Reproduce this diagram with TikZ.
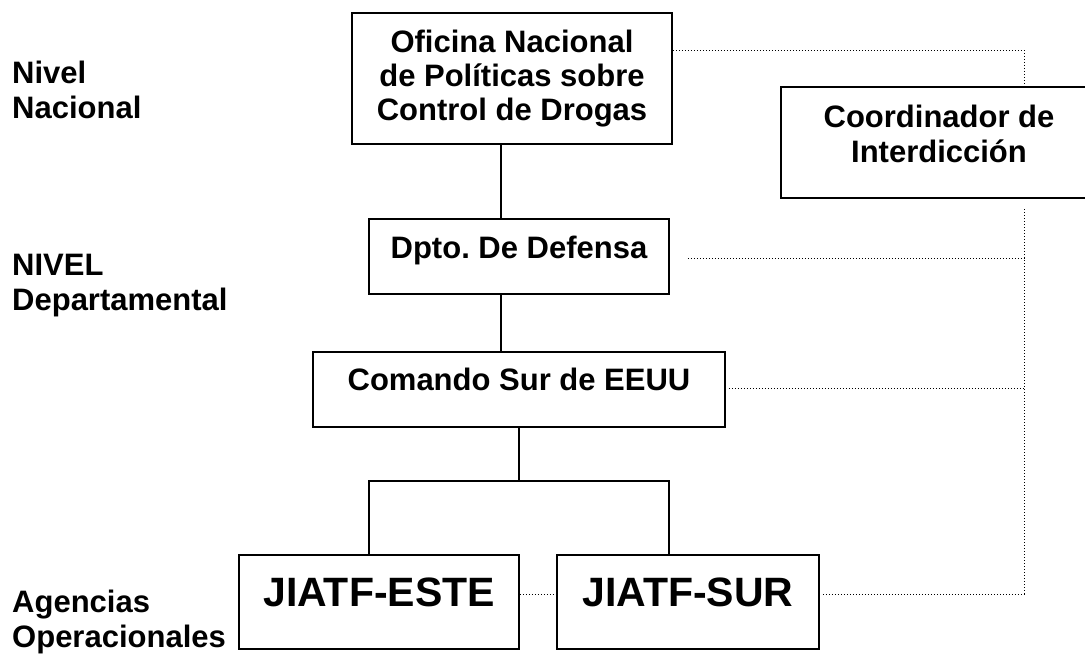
\documentclass[tikz,border=0pt]{standalone}
\usepackage{fontspec}
\setmainfont{Liberation Sans}

\begin{document}
\begin{tikzpicture}[x=1pt, y=-1pt,
    box/.style={draw, line width=1.6pt, inner sep=0pt, align=center, font=\fontsize{31}{33.8}\selectfont\bfseries},
    nivel/.style={anchor=west, inner sep=0pt, align=left, font=\fontsize{31}{35}\selectfont\bfseries},
    enlace/.style={line width=1.6pt},
    punteado/.style={line width=1pt, dash pattern=on 1pt off 2pt}]
      \clip (0,0) rectangle (1085,656);

      \node[nivel] (nacional) at (12, 90) {Nivel\\Nacional};
      \node[nivel] (departamental) at (12, 286) {NIVEL\\Departamental};
      \node[nivel] (operacional) at (12, 622) {Agencias\\Operacionales};

      \node[box, minimum width=320, minimum height=131] (oficina) at (512, 78.5) {Oficina Nacional\\de Políticas sobre\\Control de Drogas};
      \node[box, minimum width=320, minimum height=111] (coord) at (941, 142.5) {};
      \node[box, draw=none, font=\fontsize{31}{35}\selectfont\bfseries] (coordtxt) at (939, 133.5) {Coordinador de\\Interdicción};
      \node[box, minimum width=300, minimum height=75, text height=22, text depth=19] (dpto) at (519, 256.5) {Dpto.\ De Defensa};
      \node[box, minimum width=412, minimum height=75, text height=22, text depth=21] (comando) at (519, 389.5) {Comando Sur de EEUU};
      \node[box, minimum width=280, minimum height=94, text height=30, text depth=22, font=\fontsize{41}{44}\selectfont\bfseries] (este) at (379, 602) {JIATF-ESTE};
      \node[box, minimum width=262, minimum height=94, text height=30, text depth=22, font=\fontsize{41}{44}\selectfont\bfseries] (sur) at (688, 602) {JIATF-SUR};

      \coordinate (eje) at (1024, 0);
      \coordinate (rama) at (519, 481);

      % lineas de mando
      \draw[enlace] ([xshift=-11]oficina.south) -- ([xshift=-18]dpto.north);
      \draw[enlace] ([xshift=-18]dpto.south) -- ([xshift=-18]comando.north);
      \draw[enlace] (comando.south) -- (rama);
      \draw[enlace] ([xshift=-10]este.north) |- (rama) -| ([xshift=-19]sur.north);

      % coordinacion
      \draw[punteado] ([yshift=28.5]oficina.east) -| (eje |- coord.north);
      \draw[punteado] (eje |- 0, 209) -- (eje |- 0, 594);
      \draw[punteado] ([xshift=18, yshift=-1.5]dpto.east) -- (eje |- 0, 258);
      \draw[punteado] ([xshift=3, yshift=1.5]comando.east) -- (eje |- 0, 388);
      \draw[punteado] ([yshift=8]este.east) -- ([yshift=8]sur.west);
      \draw[punteado] ([xshift=3, yshift=8]sur.east) -- (eje |- 0, 594);
\end{tikzpicture}
\end{document}
